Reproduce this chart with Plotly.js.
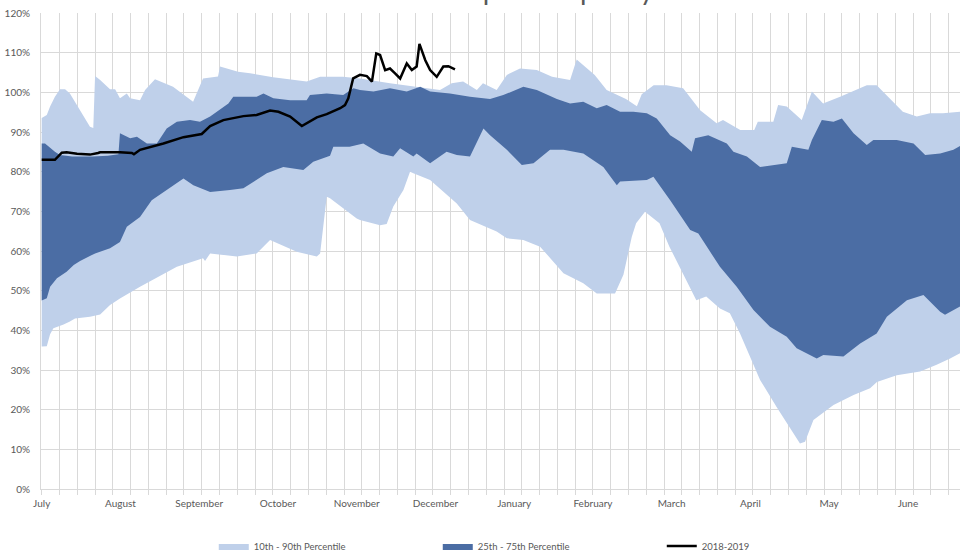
<!DOCTYPE html>
<html>
<head>
<meta charset="utf-8">
<script src="https://cdn.plot.ly/plotly-3.0.1.min.js"></script>
<style>html,body{margin:0;padding:0;background:#fff;}#chart{width:960px;height:551px;}</style>
</head>
<body>
<div id="chart"></div>
<script>
// x values are days since July 1 (category index of the daily series)
const monthDays = [0,31,62,93,124,155,186,217,248,279,310,341];
const monthLabels = ["July","August","September","October","November","December","January","February","March","April","May","June"];
const chartTitle = 'Reservoir Space Capacity';

const p90Days = [0,2,3.3,5.2,7.2,9.2,11.1,19,20.3,21,23,26.9,28.9,30.8,33.5,34.8,38.7,40.7,44.6,51.7,59.6,63.5,69.4,70.2,77.3,82,91.1,104.3,109.6,118.6,125.3,137.1,156.8,161.4,165.9,171.3,173.7,179.1,183.1,188.3,194.9,200.9,208,210.6,217.7,222.4,230,234.3,236.2,240.9,246,252.5,259.2,265.7,268.2,275,280.5,281.9,288,289.9,293.3,299.2,303.2,307.6,314.3,324.8,328.7,339,344.5,349.7,354.8,361.5];
const p90 = [93.5,94.3,96.4,98.9,100.8,100.8,99.7,91.3,91.0,104.1,103.1,100.8,100.8,98.5,99.7,98.5,98,100.6,103.3,101.4,97.6,103.5,104,106.5,105.2,104.8,103.8,102.7,103.9,103.9,103.5,102.3,100.6,102.3,102.7,100.6,102.3,100.6,104.4,106,105.6,103.9,103.1,108.3,104.4,100.6,98.3,96.5,99.5,101.8,101.8,101,95.5,92.2,93,90.5,90.5,92.6,92.6,96.8,96.4,93,100.2,97.2,98.9,101.8,101.8,95.1,93.9,94.7,94.7,95.1];

const p10Days = [0,2,3.3,4.6,8.6,11.1,13.1,19,23,26.9,30.8,38.7,53.2,63.5,64.3,66.3,76.8,84.6,89.9,100.4,108.3,109.6,112.2,113.5,124,125.3,133.2,135.8,138.4,142.4,145,146.3,152.9,163.4,168.6,179.1,183.1,189.6,196.2,205.4,213.2,218.5,225.7,229,232.3,234,237.5,243.2,247.1,252.4,257.7,261.6,267,270.9,274.9,282.8,289.3,298.5,300.5,303.8,311.7,319.6,326.1,328.8,336.6,345.8,352.3,357.6,361.5];
const p10 = [35.9,36,39,40.5,41.5,42.2,43,43.4,44,46.4,48,51,56,58.2,57.5,59.4,58.6,59.4,62.8,59.8,58.6,59.4,73.7,73.3,68.2,67.8,66.5,66.8,71.2,75.4,80,79.6,77.9,72,67.8,64.9,63.2,62.8,61.1,54.4,51.9,49.3,49.3,54,63.6,67,69.9,67,61.1,54.4,47.6,48.5,45.5,44.3,39.2,27.5,20.7,11.5,11.9,17.4,21.2,23.7,25.4,27,28.7,29.6,31.3,32.9,34.2];

const p75Days = [0,1.3,5.2,7.2,12,20,26,30.2,30.8,34.8,37.5,41.4,45.3,49.2,53.2,58.4,62.3,66.3,73.5,75.4,84.6,87.3,91.2,97.8,104.3,105.6,112.2,118.7,122.7,125.3,130.6,137.1,143.7,149,152.9,160.7,168.6,176.5,181.7,189.6,194.9,202.8,208,213.2,218.5,222.4,227.7,232.9,238.2,242.1,247.4,251.3,255.9,257.2,262.4,269.7,272.3,277.6,282.8,293.3,295.3,301.8,303.2,307.1,311.7,315,319.6,324.8,327.4,336.6,343.2,347.8,353.7,358.9,361.5];
const p75 = [87.1,87.1,85,84.2,83.8,83.8,84,84.4,89.7,88.4,88.8,87.1,87.1,90.9,92.6,93,92.6,93.9,97.2,98.9,98.9,99.7,98.5,98,98,99.3,99.7,99.3,101,100.6,100.2,101,100.2,101.4,100.2,99.7,98.9,98.3,99.3,101.4,100.6,98.3,97.2,97.6,96,96.8,95.1,95.1,94.7,93.4,89.2,87.6,85,88.4,89.2,87.1,85,83.8,81.2,82.1,86.3,85.5,88,93,92.6,93.4,89.7,86.7,88,88,87.1,84.2,84.6,85.5,86.5];

const p25Days = [0,2,3.3,6,9.8,12.6,15.1,21,26.9,30.8,33.5,38.7,43.3,49.2,55.8,59.7,66.3,74.1,79.4,88.6,95.1,103,106.9,113.5,114.8,121.2,126.6,133.2,138.4,141.1,146.3,147.6,152.9,159.4,163.4,168.6,173.9,176.5,183.1,189,193.6,200.1,205.4,213.2,221.1,226.4,227.7,238.2,240.8,247.4,255.3,258.5,267,273.6,280.2,286.7,293.3,297.2,305.1,307.7,315.6,322.2,328.7,332.7,340.6,347.1,353.7,355.6,361.5];
const p25 = [47.5,48.1,51,53.1,54.8,56.5,57.5,59.4,60.7,62.3,66.1,68.6,72.8,75.4,78.3,76.6,74.9,75.4,75.8,79.6,81.2,80.4,82.5,84,86.3,86.3,87.1,84.6,83.8,85.9,83.8,84.6,82.1,85,84.2,83.8,90.9,89.2,85.5,81.7,82.1,85.5,85.5,84.6,81.2,76.6,77.5,77.9,78.7,72.8,65.3,64.4,56,51,45.1,40.9,38.4,35.5,32.9,33.8,33.4,36.7,39.2,43.4,47.6,48.9,44.7,43.9,46];

const cur1819Days = [0,5.2,7.9,9.8,13.9,19,22.2,23,30.8,35.5,36.3,38.7,47.9,55.8,63,66.3,71.5,79.4,84.6,89.9,93.2,97.8,102.4,108.3,112.2,117.5,119.4,120.7,122.6,125.3,128,130,131.7,133.2,135.2,137.1,139.1,141.1,143.7,145.7,147.6,148.7,151,152.9,155.5,158.1,160.1,162.7];
const cur1819 = [83,83,84.8,84.9,84.5,84.3,84.7,84.9,84.9,84.7,84.4,85.5,87.1,88.7,89.5,91.5,93,94,94.3,95.4,95.1,93.9,91.5,93.7,94.5,96,96.8,98.5,103.5,104.4,104.1,102.7,109.8,109.4,105.6,106,104.8,103.5,107.3,105.6,106.5,112.2,108.1,105.6,103.9,106.5,106.6,105.8];

const weekDays = [];
for (let d = 0; d <= 364; d += 7) weekDays.push(d);

const FONT = "Lato, 'Liberation Sans', sans-serif";
const GRID = '#D9D9D9';
const LIGHT = '#BFD0EA';
const DARK = '#4B6DA4';

const traces = [
  {x: p10Days, y: p10, type: 'scatter', mode: 'lines', line: {width: 0, color: LIGHT}, showlegend: false, hoverinfo: 'skip'},
  {x: p90Days, y: p90, type: 'scatter', mode: 'lines', line: {width: 0, color: LIGHT}, fill: 'tonexty', fillcolor: LIGHT, name: '10th - 90th Percentile'},
  {x: p25Days, y: p25, type: 'scatter', mode: 'lines', line: {width: 0, color: DARK}, showlegend: false, hoverinfo: 'skip'},
  {x: p75Days, y: p75, type: 'scatter', mode: 'lines', line: {width: 0, color: DARK}, fill: 'tonexty', fillcolor: DARK, name: '25th - 75th Percentile'},
  {x: cur1819Days, y: cur1819, type: 'scatter', mode: 'lines', line: {width: 2.5, color: '#000000'}, name: '2018-2019'}
];

const layout = {
  width: 960, height: 551,
  margin: {l: 41, r: 0, t: 13, b: 62, autoexpand: false},
  paper_bgcolor: '#ffffff', plot_bgcolor: '#ffffff',
  font: {family: FONT, color: '#595959', size: 10},
  annotations: [{
    text: chartTitle, showarrow: false, xref: 'paper', x: 0.5, xanchor: 'center',
    yref: 'paper', y: 1, yanchor: 'bottom', yshift: 6, borderpad: 0,
    font: {family: FONT, size: 28, color: '#595959'}
  }],
  xaxis: {
    range: [-0.28, 361.5], tickmode: 'array', tickvals: monthDays, ticktext: monthLabels,
    showgrid: false, zeroline: false, ticks: '', ticklabelstandoff: 5,
    tickfont: {family: FONT, size: 10, color: '#595959'},
    showline: true, linecolor: GRID, linewidth: 1,
    minor: {tickmode: 'array', tickvals: weekDays, showgrid: true, gridcolor: GRID, gridwidth: 1,
            ticks: 'outside', ticklen: 5, tickcolor: GRID, tickwidth: 1}
  },
  yaxis: {
    range: [0, 120], dtick: 10, tick0: 0, ticksuffix: '%', showgrid: true, gridcolor: GRID, gridwidth: 1,
    zeroline: false, ticks: '', ticklabelstandoff: 8, showline: true, linecolor: GRID,
    tickfont: {family: FONT, size: 10, color: '#595959'}
  },
  showlegend: true,
  legend: {orientation: 'h', x: 0.188, xanchor: 'left', y: -0.12, yanchor: 'middle',
           font: {family: FONT, size: 9.5, color: '#595959'}, entrywidth: 179, entrywidthmode: 'pixels',
           itemwidth: 30, traceorder: 'normal', bgcolor: 'rgba(0,0,0,0)'},
  hovermode: false
};

Plotly.newPlot('chart', traces, layout, {displayModeBar: false, staticPlot: true});
</script>
</body>
</html>
